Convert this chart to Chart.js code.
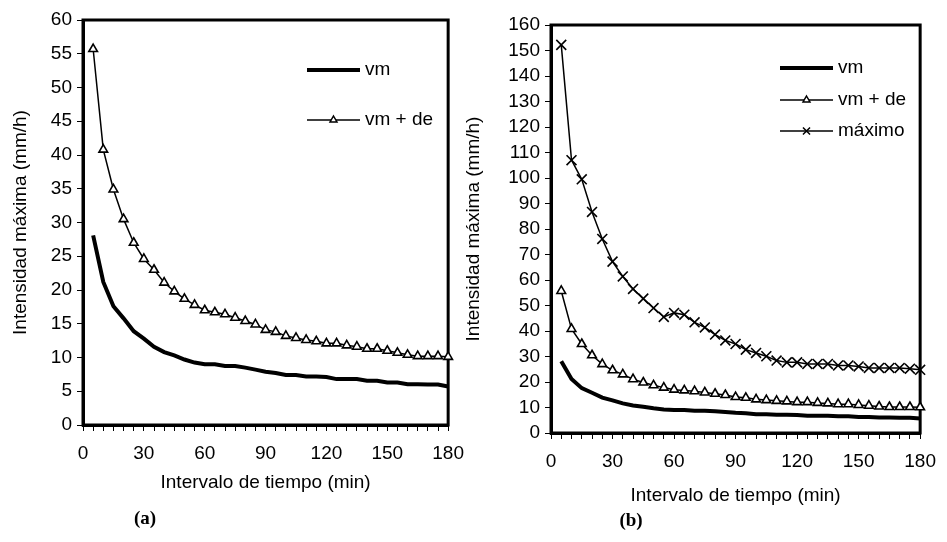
<!DOCTYPE html>
<html>
<head>
<meta charset="utf-8">
<title>Intensidad máxima</title>
<script src="https://cdn.jsdelivr.net/npm/chart.js@4.4.1/dist/chart.umd.min.js"></script>
<style>
  html, body { margin: 0; padding: 0; background: #fff; }
  #wrap { position: relative; width: 947px; height: 542px; overflow: hidden; }
  canvas { position: absolute; top: 0; }
  #chartA { left: 0; }
  #chartB { left: 460px; }
  .tag { position: absolute; font: bold 19px "Liberation Serif", "Times New Roman", serif; transform: translate(-50%, -50%); }
</style>
</head>
<body>
<div id="wrap">
  <canvas id="chartA" width="475" height="542" style="width:475px;height:542px"></canvas>
  <canvas id="chartB" width="487" height="542" style="width:487px;height:542px"></canvas>
  <div class="tag" style="left:145px; top:518px">(a)</div>
  <div class="tag" style="left:631px; top:520px">(b)</div>
</div>
<script>
// intervalo de tiempo (min)
const minutes = [5, 10, 15, 20, 25, 30, 35, 40, 45, 50, 55, 60, 65, 70, 75, 80, 85, 90,
                 95, 100, 105, 110, 115, 120, 125, 130, 135, 140, 145, 150, 155, 160, 165, 170, 175, 180];

// intensidad máxima (mm/h)
const vm = [28.1, 21.2, 17.6, 15.8, 13.9, 12.8, 11.6, 10.8, 10.3, 9.7, 9.25, 9.0, 9.0, 8.75, 8.75, 8.5, 8.2, 7.9,
            7.7, 7.4, 7.4, 7.2, 7.2, 7.1, 6.8, 6.8, 6.8, 6.55, 6.55, 6.3, 6.3, 6.05, 6.05, 6.0, 6.0, 5.7];
const vmDe = [55.7, 40.8, 34.9, 30.5, 27.0, 24.6, 23.0, 21.1, 19.8, 18.7, 17.8, 17.0, 16.7, 16.4, 15.9, 15.4, 14.9, 14.1,
              13.8, 13.2, 12.9, 12.6, 12.4, 12.1, 12.1, 11.8, 11.6, 11.3, 11.3, 11.0, 10.7, 10.4, 10.2, 10.2, 10.2, 10.1];
const maximo = [152.2, 107, 99.5, 86.7, 76.1, 67.2, 61.4, 56.5, 52.7, 49.0, 45.5, 47.1, 46.4, 43.4, 41.4, 38.6, 36.3, 34.9,
                32.7, 31.4, 30.1, 28.4, 27.7, 27.7, 27.1, 27.1, 27.1, 26.5, 26.5, 26.1, 25.5, 25.5, 25.5, 25.5, 25.2, 24.8];

const xLabelStep = 30;
const yTitle = 'Intensidad máxima (mm/h)';
const xTitle = 'Intervalo de tiempo (min)';

Chart.defaults.font.family = '"Liberation Sans", Arial, sans-serif';
Chart.defaults.font.size = 19;
Chart.defaults.color = '#000';

const pairs = (vals) => minutes.map((m, i) => ({ x: m, y: vals[i] }));

const framePlugin = {
  id: 'frame',
  beforeDatasetsDraw(chart) {
    const a = chart.chartArea, ctx = chart.ctx;
    ctx.save();
    ctx.strokeStyle = '#000';
    ctx.lineWidth = 3;
    ctx.strokeRect(a.left, a.top, a.right - a.left, a.bottom - a.top);
    ctx.restore();
  }
};

function drawMarker(ctx, style, x, y, r) {
  ctx.beginPath();
  if (style === 'triangle') {
    ctx.moveTo(x, y - r);
    ctx.lineTo(x + r * 0.866, y + r / 2);
    ctx.lineTo(x - r * 0.866, y + r / 2);
    ctx.closePath();
    ctx.fillStyle = '#fff';
    ctx.fill();
    ctx.stroke();
  } else if (style === 'crossRot') {
    const d = r * 0.7071;
    ctx.moveTo(x - d, y - d); ctx.lineTo(x + d, y + d);
    ctx.moveTo(x + d, y - d); ctx.lineTo(x - d, y + d);
    ctx.stroke();
  }
}

// excel-like legend: line sample with the marker in the middle
const lineLegend = {
  id: 'lineLegend',
  afterDraw(chart, args, opts) {
    const ctx = chart.ctx;
    ctx.save();
    chart.data.datasets.forEach((ds, i) => {
      const y = opts.rows[i];
      ctx.strokeStyle = '#000';
      ctx.lineWidth = ds.borderWidth;
      ctx.beginPath();
      ctx.moveTo(opts.x1, y);
      ctx.lineTo(opts.x2, y);
      ctx.stroke();
      if (ds.pointRadius > 0) {
        ctx.lineWidth = 1.5;
        drawMarker(ctx, ds.pointStyle, (opts.x1 + opts.x2) / 2, y, opts.r[i]);
      }
      ctx.fillStyle = '#000';
      ctx.font = '19px "Liberation Sans", Arial, sans-serif';
      ctx.textBaseline = 'middle';
      ctx.fillText(ds.label, opts.x2 + 5, y);
    });
    ctx.restore();
  }
};

function vmSet() {
  return { label: 'vm', data: pairs(vm), borderColor: '#000', borderWidth: 4,
           pointRadius: 0, tension: 0, fill: false, clip: false };
}
function vmDeSet() {
  return { label: 'vm + de', data: pairs(vmDe), borderColor: '#000', borderWidth: 1.5,
           pointStyle: 'triangle', pointRadius: 5, pointBorderWidth: 1.6,
           pointBackgroundColor: '#fff', pointBorderColor: '#000', tension: 0, fill: false, clip: false };
}
function maximoSet() {
  return { label: 'máximo', data: pairs(maximo), borderColor: '#000', borderWidth: 1.5,
           pointStyle: 'crossRot', pointRadius: 7, pointBorderWidth: 1.6,
           pointBorderColor: '#000', tension: 0, fill: false, clip: false };
}

function makeChart(id, datasets, yMax, yStep, box, legend) {
  return new Chart(document.getElementById(id), {
    type: 'line',
    data: { datasets: datasets },
    options: {
      responsive: false,
      animation: false,
      events: [],
      layout: { padding: { top: box.top, right: box.right, left: 0, bottom: 0 } },
      plugins: {
        legend: { display: false },
        tooltip: { enabled: false },
        lineLegend: legend
      },
      scales: {
        x: {
          type: 'linear',
          min: 0, max: 180,
          afterFit: (s) => { s.height = box.xHeight; },
          ticks: {
            stepSize: 5, autoSkip: false, maxRotation: 0, padding: 11,
            callback: (v) => (v % xLabelStep === 0 ? v : '')
          },
          grid: { drawOnChartArea: false, drawTicks: true, tickLength: 6, color: '#000', lineWidth: 1 },
          border: { display: true, color: '#000', width: 3 },
          title: { display: true, text: xTitle, padding: { top: 0, bottom: box.xTitlePad } }
        },
        y: {
          min: 0, max: yMax,
          afterFit: (s) => { s.width = box.yWidth; },
          ticks: { stepSize: yStep, autoSkip: false, padding: 5 },
          grid: { drawOnChartArea: false, drawTicks: true, tickLength: 6, color: '#000', lineWidth: 1 },
          border: { display: true, color: '#000', width: 3 },
          title: { display: true, text: yTitle, padding: { top: box.yTitlePad, bottom: 0 } }
        }
      }
    },
    plugins: [framePlugin, lineLegend]
  });
}

makeChart('chartA', [vmSet(), vmDeSet()], 60, 5,
  { top: 20, right: 26, xHeight: 117, yWidth: 83, xTitlePad: 48, yTitlePad: 9 },
  { x1: 307, x2: 360, rows: [70, 120], r: [0, 4] });

makeChart('chartB', [vmSet(), vmDeSet(), maximoSet()], 160, 10,
  { top: 25, right: 20, xHeight: 109, yWidth: 91, xTitlePad: 35, yTitlePad: 2 },
  { x1: 320, x2: 373, rows: [68, 100, 131], r: [0, 4, 5] });
</script>
</body>
</html>
